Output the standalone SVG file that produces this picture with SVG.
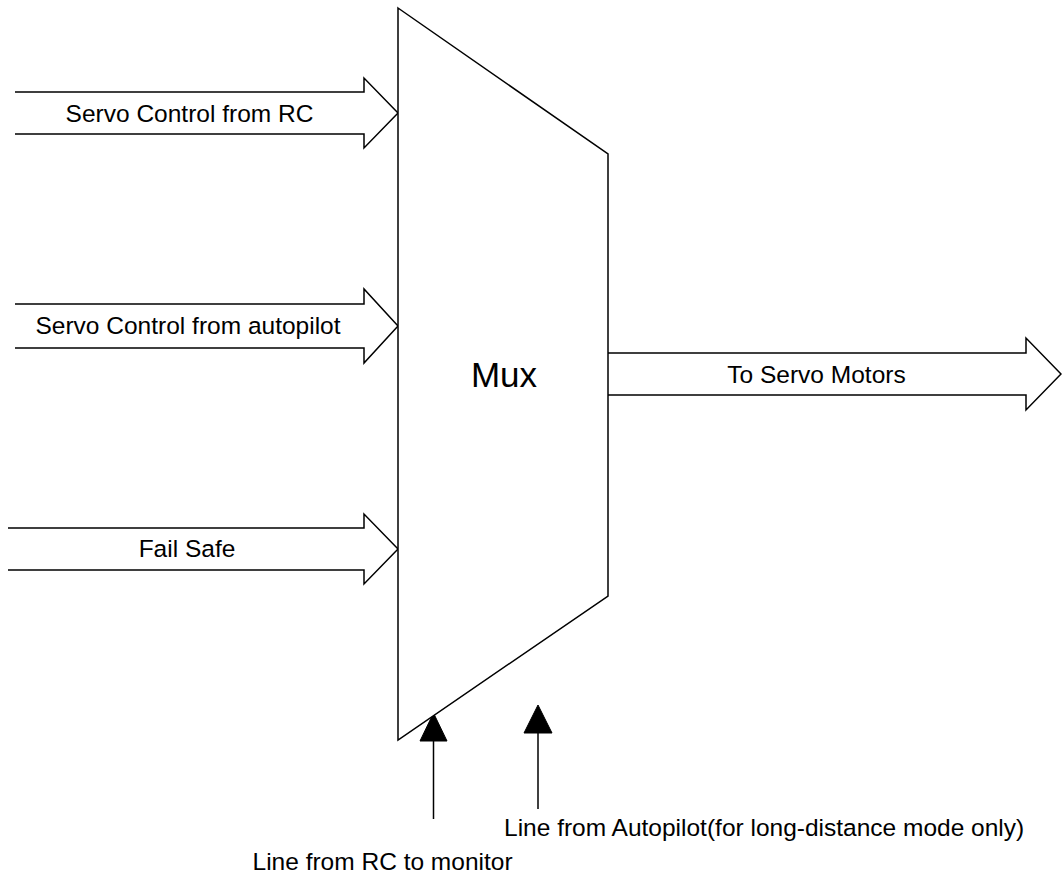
<svg xmlns="http://www.w3.org/2000/svg" width="1062" height="878" viewBox="0 0 1062 878">
<style>
.shape{fill:#fff;stroke:#000;stroke-width:1.5;stroke-linejoin:miter}
.line{stroke:#000;stroke-width:1.5;fill:none}
.head{fill:#000;stroke:#000;stroke-width:1}
text{font-family:"Liberation Sans",Arial,sans-serif;font-size:24.5px;fill:#000}
.mid{text-anchor:middle}
</style>
<rect width="1062" height="878" fill="#fff"/>
<g id="connectors">
<g id="in-rc">
<path class="shape" d="M15,92 H364 V78 L398,113 L364,148 V134 H15"/>
<text class="mid" x="189.5" y="122">Servo Control from RC</text>
</g>
<g id="in-autopilot">
<path class="shape" d="M15,304 H364 V289 L398,326 L364,363 V348 H15"/>
<text class="mid" x="188" y="334">Servo Control from autopilot</text>
</g>
<g id="in-failsafe">
<path class="shape" d="M8,528 H364 V514 L398,549 L364,584 V570 H8"/>
<text class="mid" x="187" y="557">Fail Safe</text>
</g>
<g id="out-servo">
<path class="shape" d="M608,353 H1026 V338 L1061,374 L1026,410 V395 H608"/>
<text class="mid" x="816.5" y="383">To Servo Motors</text>
</g>
<g id="line-rc">
<line class="line" x1="433.5" y1="819" x2="433.5" y2="740"/>
<polygon class="head" points="433.5,713 447,741 420,741"/>
</g>
<g id="line-autopilot">
<line class="line" x1="538" y1="809" x2="538" y2="732"/>
<polygon class="head" points="538,705 552,733 524,733"/>
</g>
</g>
<g id="mux">
<polygon class="shape" points="398,8 608,154 608,596 398,740"/>
<text class="mid" x="504" y="387" style="font-size:35px">Mux</text>
</g>
<g id="labels">
<text x="504" y="836">Line from Autopilot(for long-distance mode only)</text>
<text x="252.5" y="870">Line from RC to monitor</text>
</g>
</svg>
